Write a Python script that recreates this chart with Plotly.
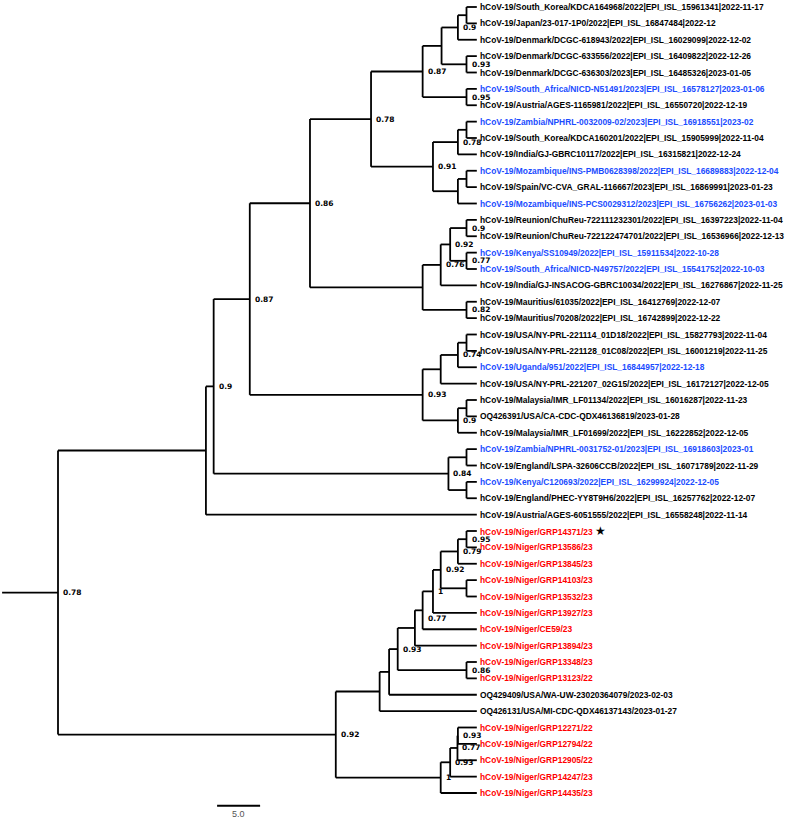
import plotly.graph_objects as go

# ---------------- data ----------------
tip_labels = [
    "hCoV-19/South_Korea/KDCA164968/2022|EPI_ISL_15961341|2022-11-17",
    "hCoV-19/Japan/23-017-1P0/2022|EPI_ISL_16847484|2022-12",
    "hCoV-19/Denmark/DCGC-618943/2022|EPI_ISL_16029099|2022-12-02",
    "hCoV-19/Denmark/DCGC-633556/2022|EPI_ISL_16409822|2022-12-26",
    "hCoV-19/Denmark/DCGC-636303/2023|EPI_ISL_16485326|2023-01-05",
    "hCoV-19/South_Africa/NICD-N51491/2023|EPI_ISL_16578127|2023-01-06",
    "hCoV-19/Austria/AGES-1165981/2022|EPI_ISL_16550720|2022-12-19",
    "hCoV-19/Zambia/NPHRL-0032009-02/2023|EPI_ISL_16918551|2023-02",
    "hCoV-19/South_Korea/KDCA160201/2022|EPI_ISL_15905999|2022-11-04",
    "hCoV-19/India/GJ-GBRC10117/2022|EPI_ISL_16315821|2022-12-24",
    "hCoV-19/Mozambique/INS-PMB0628398/2022|EPI_ISL_16689883|2022-12-04",
    "hCoV-19/Spain/VC-CVA_GRAL-116667/2023|EPI_ISL_16869991|2023-01-23",
    "hCoV-19/Mozambique/INS-PCS0029312/2023|EPI_ISL_16756262|2023-01-03",
    "hCoV-19/Reunion/ChuReu-722111232301/2022|EPI_ISL_16397223|2022-11-04",
    "hCoV-19/Reunion/ChuReu-722122474701/2022|EPI_ISL_16536966|2022-12-13",
    "hCoV-19/Kenya/SS10949/2022|EPI_ISL_15911534|2022-10-28",
    "hCoV-19/South_Africa/NICD-N49757/2022|EPI_ISL_15541752|2022-10-03",
    "hCoV-19/India/GJ-INSACOG-GBRC10034/2022|EPI_ISL_16276867|2022-11-25",
    "hCoV-19/Mauritius/61035/2022|EPI_ISL_16412769|2022-12-07",
    "hCoV-19/Mauritius/70208/2022|EPI_ISL_16742899|2022-12-22",
    "hCoV-19/USA/NY-PRL-221114_01D18/2022|EPI_ISL_15827793|2022-11-04",
    "hCoV-19/USA/NY-PRL-221128_01C08/2022|EPI_ISL_16001219|2022-11-25",
    "hCoV-19/Uganda/951/2022|EPI_ISL_16844957|2022-12-18",
    "hCoV-19/USA/NY-PRL-221207_02G15/2022|EPI_ISL_16172127|2022-12-05",
    "hCoV-19/Malaysia/IMR_LF01134/2022|EPI_ISL_16016287|2022-11-23",
    "OQ426391/USA/CA-CDC-QDX46136819/2023-01-28",
    "hCoV-19/Malaysia/IMR_LF01699/2022|EPI_ISL_16222852|2022-12-05",
    "hCoV-19/Zambia/NPHRL-0031752-01/2023|EPI_ISL_16918603|2023-01",
    "hCoV-19/England/LSPA-32606CCB/2022|EPI_ISL_16071789|2022-11-29",
    "hCoV-19/Kenya/C120693/2022|EPI_ISL_16299924|2022-12-05",
    "hCoV-19/England/PHEC-YY8T9H6/2022|EPI_ISL_16257762|2022-12-07",
    "hCoV-19/Austria/AGES-6051555/2022|EPI_ISL_16558248|2022-11-14",
    "hCoV-19/Niger/GRP14371/23",
    "hCoV-19/Niger/GRP13586/23",
    "hCoV-19/Niger/GRP13845/23",
    "hCoV-19/Niger/GRP14103/23",
    "hCoV-19/Niger/GRP13532/23",
    "hCoV-19/Niger/GRP13927/23",
    "hCoV-19/Niger/CE59/23",
    "hCoV-19/Niger/GRP13894/23",
    "hCoV-19/Niger/GRP13348/23",
    "hCoV-19/Niger/GRP13123/22",
    "OQ429409/USA/WA-UW-23020364079/2023-02-03",
    "OQ426131/USA/MI-CDC-QDX46137143/2023-01-27",
    "hCoV-19/Niger/GRP12271/22",
    "hCoV-19/Niger/GRP12794/22",
    "hCoV-19/Niger/GRP12905/22",
    "hCoV-19/Niger/GRP14247/23",
    "hCoV-19/Niger/GRP14435/23",
]
tip_groups = (["k"] * 5 + ["b", "k", "b", "k", "k", "b", "k", "b", "k", "k", "b", "b",
              "k", "k", "k", "k", "k", "b", "k", "k", "k", "k", "b", "k", "b", "k", "k"]
              + ["r"] * 10 + ["k", "k"] + ["r"] * 5)
starred_tip = 32

# internal nodes: id, children (tip index or node id), age (time units before tips), posterior
node_ids = ["n1", "n2", "n3", "n4", "n5", "n6", "n7", "n8", "n9", "n10", "n11", "n12",
            "n13", "n14", "n15", "n16", "n17", "n18", "n19", "n20", "n21", "n22", "n23",
            "n24", "n25", "n26", "n27", "n28", "n29", "n30", "n31",
            "m1", "m2", "m3", "m4", "m5", "m6", "m7", "m8", "m9", "m10", "m11",
            "m12", "m13", "m14", "m15", "m16", "root"]
node_children = [[0, 1], ["n1", 2], [3, 4], ["n2", "n3"], [5, 6], ["n4", "n5"],
                 [7, 8], ["n7", 9], [10, 11], ["n9", 12], ["n8", "n10"], ["n6", "n11"],
                 [13, 14], [15, 16], ["n13", "n14"], ["n15", 17], [18, 19], ["n16", "n17"],
                 ["n12", "n18"], [20, 21], ["n20", 22], ["n21", 23], [24, 25], ["n23", 26],
                 ["n22", "n24"], ["n19", "n25"], [27, 28], [29, 30], ["n27", "n28"],
                 ["n26", "n29"], ["n30", 31],
                 [32, 33], ["m1", 34], [35, 36], ["m2", "m3"], ["m4", 37], ["m5", 38],
                 ["m6", 39], [40, 41], ["m7", "m8"], ["m9", 42], ["m10", 43],
                 [44, 45], ["m12", 46], ["m13", 47], ["m14", 48], ["m11", "m15"],
                 ["n31", "m16"]]
node_ages = [1.2, 2.2, 1.2, 4.1, 1.2, 6.3, 1.2, 2.2, 1.2, 2.2, 5.1, 12.3,
             1.2, 1.2, 3.1, 4.2, 1.2, 6.3, 19.4, 1.2, 2.2, 4.2, 1.2, 2.2, 6.3, 26.4,
             1.2, 1.2, 3.3, 30.6, 31.5,
             1.2, 2.2, 1.2, 4.2, 5.1, 6.3, 7.2, 1.2, 9.2, 10.2, 11.3,
             2.2, 2.25, 3.1, 4.2, 16.4, 48.7]
node_support = ["", "0.9", "0.93", "", "0.95", "0.87", "", "0.78", "", "", "0.91", "0.78",
                "0.9", "0.77", "0.92", "0.76", "0.82", "", "0.86", "", "0.74", "", "", "0.9",
                "0.93", "0.87", "", "", "0.84", "0.9", "",
                "0.95", "0.79", "", "0.92", "1", "0.77", "", "0.86", "0.93", "", "",
                "0.93", "0.77", "0.93", "1", "0.92", "0.78"]
scale_bar_length = 5.0
scale_bar_text = "5.0"

# ---------------- style ----------------
W, H = 789, 821
PX_PER_UNIT = 43 / 5.0
ROOT_PX = 58
TIP_Y0, TIP_DY = 7, 16.375
ROOT_STUB = 6.5
LINE_W = 1.8
COLORS = {"k": "#000000", "b": "#1a4cff", "r": "#ff0000"}
LABEL_NUDGE = {"m6": 0.5}
SCALE_X0 = 18.5
TIP_FONT = 8.4

# ---------------- layout computation ----------------
depth = node_ages[node_ids.index("root")]
node_map = {nid: (ch, age, sup) for nid, ch, age, sup in
            zip(node_ids, node_children, node_ages, node_support)}
pos = {}


def place(n):
    if isinstance(n, int):
        pos[n] = (depth, float(n))
        return pos[n]
    ch, age, _ = node_map[n]
    ys = [place(c)[1] for c in ch]
    pos[n] = (depth - age, (ys[0] + ys[-1]) / 2)
    return pos[n]


place("root")

xs, ys = [], []
rx, ry = pos["root"]
xs += [rx - ROOT_STUB, rx, None]
ys += [ry, ry, None]
for nid in node_ids:
    ch = node_map[nid][0]
    nx, ny = pos[nid]
    cy = [pos[c][1] for c in ch]
    xs += [nx, nx, None]
    ys += [cy[0], cy[-1], None]
    for c in ch:
        cx, cyy = pos[c]
        xs += [nx, cx, None]
        ys += [cyy, cyy, None]

fig = go.Figure()
fig.add_trace(go.Scatter(x=xs, y=ys, mode="lines",
                         line=dict(color="black", width=LINE_W),
                         hoverinfo="skip", showlegend=False))

# scale bar
sb_y = len(tip_labels) - 1 + 0.78
fig.add_trace(go.Scatter(x=[SCALE_X0, SCALE_X0 + scale_bar_length], y=[sb_y, sb_y],
                         mode="lines", line=dict(color="black", width=2.2),
                         hoverinfo="skip", showlegend=False))

ann = []
for i, (lab, g) in enumerate(zip(tip_labels, tip_groups)):
    txt = "<b>" + lab + "</b>"
    if i == starred_tip:
        txt = txt + " <span style='color:#000000;font-size:12px'>★</span>"
    ann.append(dict(x=depth, y=i, text=txt, showarrow=False,
                    xanchor="left", yanchor="middle", xshift=1,
                    font=dict(family="Liberation Sans, Arial", size=TIP_FONT,
                              color=COLORS[g])))

for nid in node_ids:
    sup = node_map[nid][2]
    if not sup:
        continue
    nx, ny = pos[nid]
    ann.append(dict(x=nx, y=ny + LABEL_NUDGE.get(nid, 0), text="<b>" + sup + "</b>",
                    showarrow=False, xanchor="left", yanchor="middle", xshift=3,
                    font=dict(family="DejaVu Sans", size=7.5, color="black")))

ann.append(dict(x=SCALE_X0 + scale_bar_length / 2, y=sb_y, text=scale_bar_text,
                showarrow=False, xanchor="center", yanchor="top", yshift=-1,
                font=dict(family="Liberation Sans, Arial", size=9, color="#555555")))

fig.update_layout(
    width=W, height=H, margin=dict(l=0, r=0, t=0, b=0),
    paper_bgcolor="white", plot_bgcolor="white",
    xaxis=dict(range=[-ROOT_PX / PX_PER_UNIT, (W - ROOT_PX) / PX_PER_UNIT],
               visible=False, fixedrange=True),
    yaxis=dict(range=[(H - TIP_Y0) / TIP_DY, -TIP_Y0 / TIP_DY],
               visible=False, fixedrange=True),
    annotations=ann,
)
fig.write_html("out.html", config={"displayModeBar": False},
               post_script="document.body.style.margin='0';document.body.style.overflow='hidden';")
